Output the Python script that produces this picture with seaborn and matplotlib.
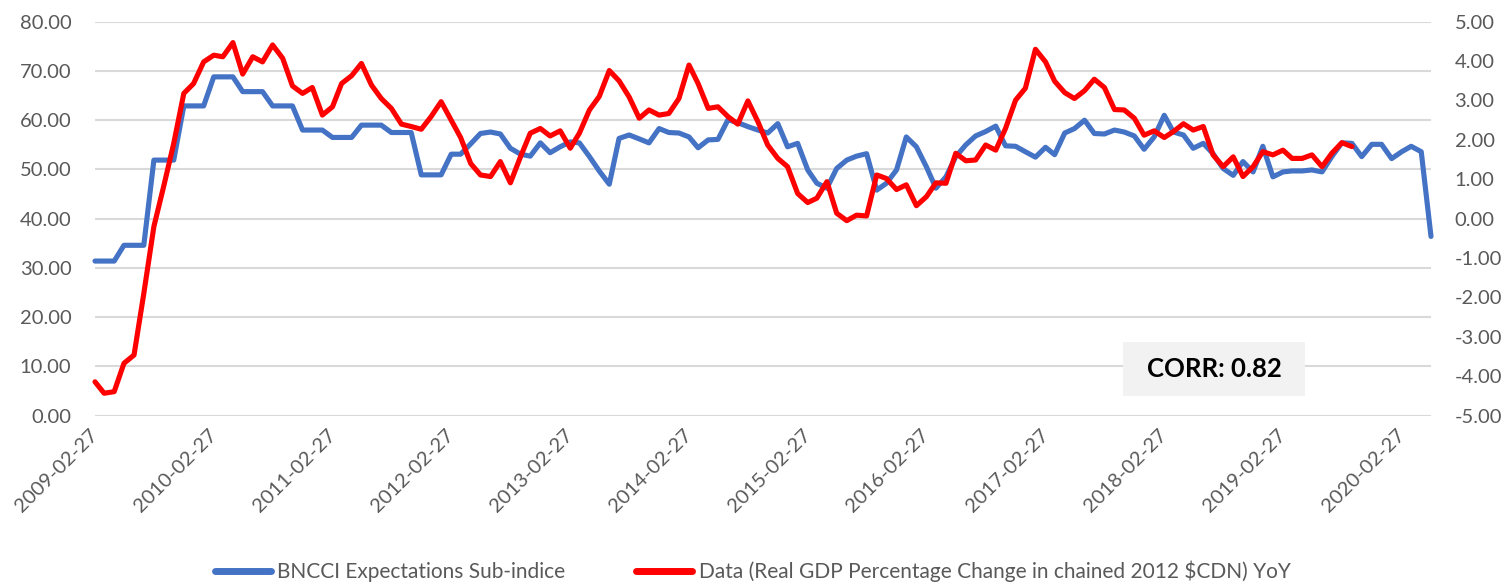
import matplotlib
matplotlib.use("Agg")
import matplotlib.pyplot as plt
from matplotlib.patches import Rectangle
from matplotlib.lines import Line2D
import seaborn as sns
import pandas as pd

# ---------------- data ----------------
start_date = "2009-02-27"
bncci_expectations = [
    31.4, 31.4, 31.4, 34.6, 34.6, 34.6, 51.9, 51.9, 51.9, 62.9, 62.9, 62.9,
    68.8, 68.8, 68.8, 65.8, 65.8, 65.8, 62.9, 62.9, 62.9, 58.0, 58.0, 58.0,
    56.5, 56.5, 56.5, 59.0, 59.0, 59.0, 57.5, 57.5, 57.5, 48.9, 48.9, 48.9,
    53.1, 53.1, 55.2, 57.3, 57.6, 57.2, 54.3, 53.1, 52.7, 55.4, 53.4, 54.6,
    55.6, 55.4, 52.6, 49.7, 47.0, 56.3, 57.0, 56.2, 55.4, 58.3, 57.5, 57.4,
    56.6, 54.4, 56.0, 56.1, 60.1, 59.5, 58.7, 58.0, 57.4, 59.3, 54.6, 55.3,
    49.9, 47.2, 46.2, 50.2, 51.9, 52.7, 53.2, 45.8, 47.2, 49.9, 56.6, 54.6,
    50.5, 46.2, 48.5, 52.6, 55.0, 56.8, 57.7, 58.8, 54.8, 54.7, 53.6, 52.5,
    54.5, 53.0, 57.4, 58.3, 60.0, 57.3, 57.2, 58.0, 57.6, 56.8, 54.1, 56.6,
    61.0, 57.6, 57.0, 54.3, 55.3, 53.2, 50.2, 48.8, 51.6, 49.5, 54.7, 48.5,
    49.5, 49.7, 49.7, 49.9, 49.5, 52.6, 55.4, 55.3, 52.6, 55.1, 55.1, 52.2,
    53.6, 54.7, 53.6, 36.4,
]
gdp_yoy = [
    -4.14, -4.43, -4.39, -3.67, -3.46, -1.90, -0.20, 0.85, 1.91, 3.18, 3.43, 3.98,
    4.15, 4.11, 4.47, 3.67, 4.11, 3.98, 4.41, 4.07, 3.37, 3.18, 3.33, 2.63,
    2.84, 3.43, 3.63, 3.94, 3.39, 3.05, 2.80, 2.40, 2.34, 2.27, 2.59, 2.97,
    2.50, 2.06, 1.40, 1.11, 1.07, 1.45, 0.91, 1.57, 2.17, 2.29, 2.10, 2.23,
    1.79, 2.17, 2.76, 3.10, 3.76, 3.50, 3.09, 2.55, 2.76, 2.63, 2.67, 3.05,
    3.90, 3.43, 2.80, 2.84, 2.59, 2.40, 2.99, 2.46, 1.87, 1.53, 1.32, 0.64,
    0.41, 0.52, 0.94, 0.14, -0.05, 0.09, 0.07, 1.11, 1.02, 0.74, 0.86, 0.33,
    0.56, 0.91, 0.90, 1.66, 1.47, 1.49, 1.87, 1.74, 2.29, 3.01, 3.31, 4.30,
    3.98, 3.49, 3.20, 3.05, 3.25, 3.54, 3.33, 2.77, 2.76, 2.55, 2.12, 2.23,
    2.06, 2.21, 2.41, 2.25, 2.34, 1.62, 1.32, 1.57, 1.07, 1.32, 1.70, 1.62,
    1.74, 1.53, 1.53, 1.62, 1.32, 1.66, 1.93, 1.83,
]
tick_years = list(range(2009, 2021))
left_ticks = [0, 10, 20, 30, 40, 50, 60, 70, 80]
right_ticks = [-5, -4, -3, -2, -1, 0, 1, 2, 3, 4, 5]
label_blue = "BNCCI Expectations Sub-indice"
label_red = "Data (Real GDP Percentage Change in chained 2012 $CDN) YoY"
corr_text = "CORR: 0.82"

# ---------------- style ----------------
sns.set_theme(style="white")
plt.rcParams["font.family"] = ["Lato", "DejaVu Sans"]

BLUE = "#4472C4"
RED = "#FF0000"
GRID = "#D9D9D9"
TXT = "#595959"
FS = 14.5

dates = pd.Series([pd.Timestamp(start_date) + pd.DateOffset(months=i)
                   for i in range(len(bncci_expectations))])
df_blue = pd.DataFrame({"date": dates, "value": bncci_expectations})
df_red = pd.DataFrame({"date": dates[:len(gdp_yoy)], "value": gdp_yoy})

fig = plt.figure(figsize=(15.11, 5.84), dpi=100)
ax = fig.add_axes([95 / 1511, 1 - 415.7 / 584, (1431 - 95) / 1511, 394 / 584])
ax2 = ax.twinx()

line_kw = dict(linewidth=3.7, solid_joinstyle="round", solid_capstyle="round",
               clip_on=False)
sns.lineplot(data=df_blue, x="date", y="value", ax=ax, color=BLUE, legend=False, **line_kw)
sns.lineplot(data=df_red, x="date", y="value", ax=ax2, color=RED, legend=False, **line_kw)

ax.set_ylim(0, 80)
ax.set_yticks(left_ticks)
ax.set_yticklabels([f"{v:.2f}" for v in left_ticks])
ax2.set_ylim(-5, 5)
ax2.set_yticks(right_ticks)
ax2.set_yticklabels([f"{v:.2f}" for v in right_ticks])

ax.set_xlim(dates.iloc[0], dates.iloc[-1])
xt = [pd.Timestamp(f"{y}-02-27") for y in tick_years]
ax.set_xticks(xt)
ax.set_xticklabels([t.strftime("%Y-%m-%d") for t in xt], rotation=45,
                   ha="right", va="center", rotation_mode="anchor")

ax.grid(axis="y", color=GRID, linewidth=1.5)
ax.grid(axis="x", visible=False)
ax2.grid(False)
ax.set_axisbelow(True)
for a in (ax, ax2):
    for s in a.spines.values():
        s.set_visible(False)
    a.set_xlabel("")
    a.set_ylabel("")
ax.tick_params(axis="both", length=0, labelsize=FS, labelcolor=TXT)
ax.tick_params(axis="y", pad=17)
ax.tick_params(axis="x", pad=12)
ax2.tick_params(axis="y", length=0, labelsize=FS, labelcolor=TXT, pad=17)

# CORR box
ax2.add_patch(Rectangle((0.7695, 0.05), 0.136, 0.137, transform=ax2.transAxes,
                        facecolor="#F2F2F2", edgecolor="none", zorder=5))
ax2.text(0.7695 + 0.068, 0.05 + 0.0685, corr_text, transform=ax2.transAxes,
         ha="center", va="center", fontsize=18.5, fontweight="bold",
         color="black", zorder=6)

handles = [Line2D([], [], color=BLUE, linewidth=5, solid_capstyle="round"),
           Line2D([], [], color=RED, linewidth=5, solid_capstyle="round")]
leg = fig.legend(handles, [label_blue, label_red], loc="center",
                 bbox_to_anchor=(0.498, 0.022), ncol=2, frameon=False,
                 fontsize=15, handlelength=2.7, handletextpad=0.3,
                 columnspacing=3.4)
for t in leg.get_texts():
    t.set_color(TXT)

fig.savefig("out.png", dpi=100)
